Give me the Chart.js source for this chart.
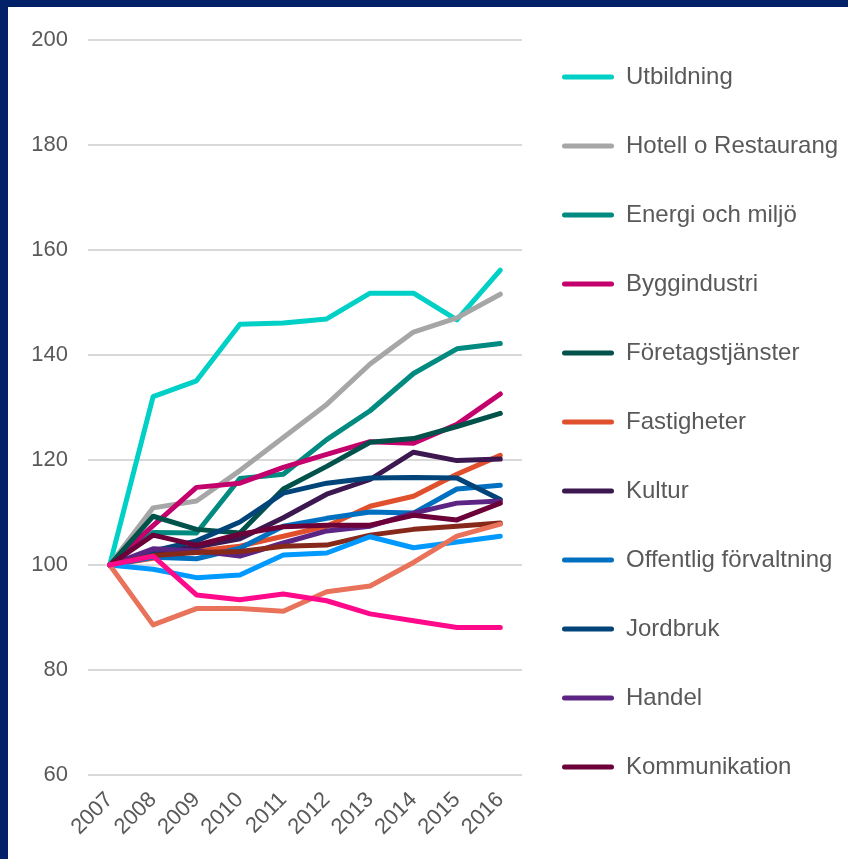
<!DOCTYPE html>
<html>
<head>
<meta charset="utf-8">
<script src="https://cdn.jsdelivr.net/npm/chart.js@4/dist/chart.umd.min.js"></script>
<style>
  html, body { margin: 0; padding: 0; }
  body { width: 848px; height: 859px; background: #032168; position: relative; overflow: hidden; }
  #wrap { position: absolute; left: 8px; top: 7px; width: 840px; height: 852px; background: #ffffff; }
  canvas { display: block; }
</style>
</head>
<body>
<div id="wrap"><canvas id="c" width="840" height="852"></canvas></div>
<script>
const years = ['2007', '2008', '2009', '2010', '2011', '2012', '2013', '2014', '2015', '2016'];
const yTicks = [60, 80, 100, 120, 140, 160, 180, 200];

const seriesNames = ['Utbildning', 'Hotell o Restaurang', 'Energi och miljö', 'Byggindustri',
  'Företagstjänster', 'Fastigheter', 'Kultur', 'Offentlig förvaltning', 'Jordbruk', 'Handel',
  'Kommunikation', 'Serie 12', 'Serie 13', 'Serie 14', 'Serie 15'];
const legendCount = 11;

const utbildning      = [100, 132.1, 135.1, 145.9, 146.1, 146.9, 151.8, 151.8, 146.7, 156.2];
const hotell          = [100, 110.9, 112.2, 118.0, 124.3, 130.6, 138.3, 144.4, 147.1, 151.6];
const energi          = [100, 106.2, 106.1, 116.5, 117.3, 123.9, 129.4, 136.5, 141.2, 142.2];
const bygg            = [100, 107.5, 114.8, 115.6, 118.6, 121.1, 123.5, 123.2, 126.8, 132.6];
const foretag         = [100, 109.3, 106.8, 106.1, 114.5, 118.8, 123.4, 124.1, 126.4, 128.9];
const fastigheter     = [100, 101.3, 102.7, 103.6, 105.5, 107.4, 111.2, 113.1, 117.3, 120.9];
const kultur          = [100, 102.5, 103.5, 105.0, 109.0, 113.5, 116.3, 121.5, 119.9, 120.2];
const offentlig       = [100, 101.5, 101.2, 103.2, 107.4, 108.9, 110.1, 109.9, 114.5, 115.2];
const jordbruk        = [100, 102.7, 104.6, 108.2, 113.7, 115.6, 116.6, 116.7, 116.6, 112.5];
const handel          = [100, 103.1, 102.7, 101.7, 104.2, 106.5, 107.4, 109.9, 111.8, 112.2];
const kommunikation   = [100, 105.7, 103.8, 105.9, 107.3, 107.6, 107.6, 109.5, 108.6, 111.8];
const serie12         = [100, 101.8, 102.4, 102.6, 103.6, 103.8, 105.7, 106.8, 107.4, 108.0];
const serie13         = [100, 99.2, 97.6, 98.1, 101.9, 102.3, 105.4, 103.3, 104.4, 105.5];
const serie14         = [100, 88.6, 91.7, 91.7, 91.2, 94.9, 96.0, 100.5, 105.5, 107.8];
const serie15         = [100, 101.7, 94.3, 93.4, 94.5, 93.2, 90.7, 89.4, 88.1, 88.1];

const seriesValues = [utbildning, hotell, energi, bygg, foretag, fastigheter, kultur, offentlig,
  jordbruk, handel, kommunikation, serie12, serie13, serie14, serie15];

const seriesColors = ['#00D0C6', '#A6A6A6', '#008A80', '#C3006B', '#00524A', '#E0502C', '#3C1750',
  '#0070C0', '#00447A', '#5C2483', '#6C0038', '#86291A', '#0099FF', '#E8735A', '#FF0A8A'];

const N = seriesNames.length;
const datasets = seriesNames.map((name, i) => ({
  label: name,
  data: seriesValues[i],
  borderColor: seriesColors[i],
  backgroundColor: seriesColors[i],
  borderWidth: 5,
  pointRadius: 0,
  pointHoverRadius: 0,
  fill: false,
  tension: 0,
  borderCapStyle: 'round',
  borderJoinStyle: 'round',
  order: N - i
}));

const FONT = '"Liberation Sans", Arial, sans-serif';

new Chart(document.getElementById('c'), {
  type: 'line',
  data: { labels: years, datasets },
  options: {
    responsive: false,
    animation: false,
    events: [],
    layout: { padding: { top: 18, left: 0, right: 0, bottom: 0 } },
    scales: {
      x: {
        type: 'category',
        offset: true,
        grid: { display: false, drawTicks: false },
        border: { display: false },
        ticks: {
          color: '#595959',
          font: { family: FONT, size: 22 },
          minRotation: 45, maxRotation: 45,
          padding: 12,
          autoSkip: false
        },
        afterFit: (s) => { s.height = 84; }
      },
      y: {
        min: 60, max: 200,
        grid: { color: '#D9D9D9', lineWidth: 2, drawTicks: false },
        border: { display: false },
        afterBuildTicks: (s) => { s.ticks = yTicks.map(v => ({ value: v })); },
        ticks: {
          color: '#595959',
          font: { family: FONT, size: 22 },
          padding: 20
        },
        afterFit: (s) => { s.width = 80; }
      }
    },
    plugins: {
      tooltip: { enabled: false },
      title: {
        display: true, text: '', fullSize: false, padding: 0,
        font: { size: 10, lineHeight: 1.2 }
      },
      legend: {
        position: 'right',
        align: 'start',
        maxWidth: 326,
        labels: {
          color: '#595959',
          font: { family: FONT, size: 24, lineHeight: 29 / 24 },
          boxWidth: 52,
          boxHeight: 5,
          padding: 40,
          useBorderRadius: true,
          borderRadius: 2.5,
          generateLabels: (chart) => {
            const items = Chart.defaults.plugins.legend.labels.generateLabels(chart);
            return items
              .filter(it => it.datasetIndex < legendCount)
              .sort((a, b) => a.datasetIndex - b.datasetIndex)
              .map(it => Object.assign(it, {
                text: [it.text],
                fillStyle: seriesColors[it.datasetIndex],
                strokeStyle: seriesColors[it.datasetIndex],
                lineWidth: 0,
                fontColor: '#595959'
              }));
          }
        }
      }
    }
  }
});
</script>
</body>
</html>
